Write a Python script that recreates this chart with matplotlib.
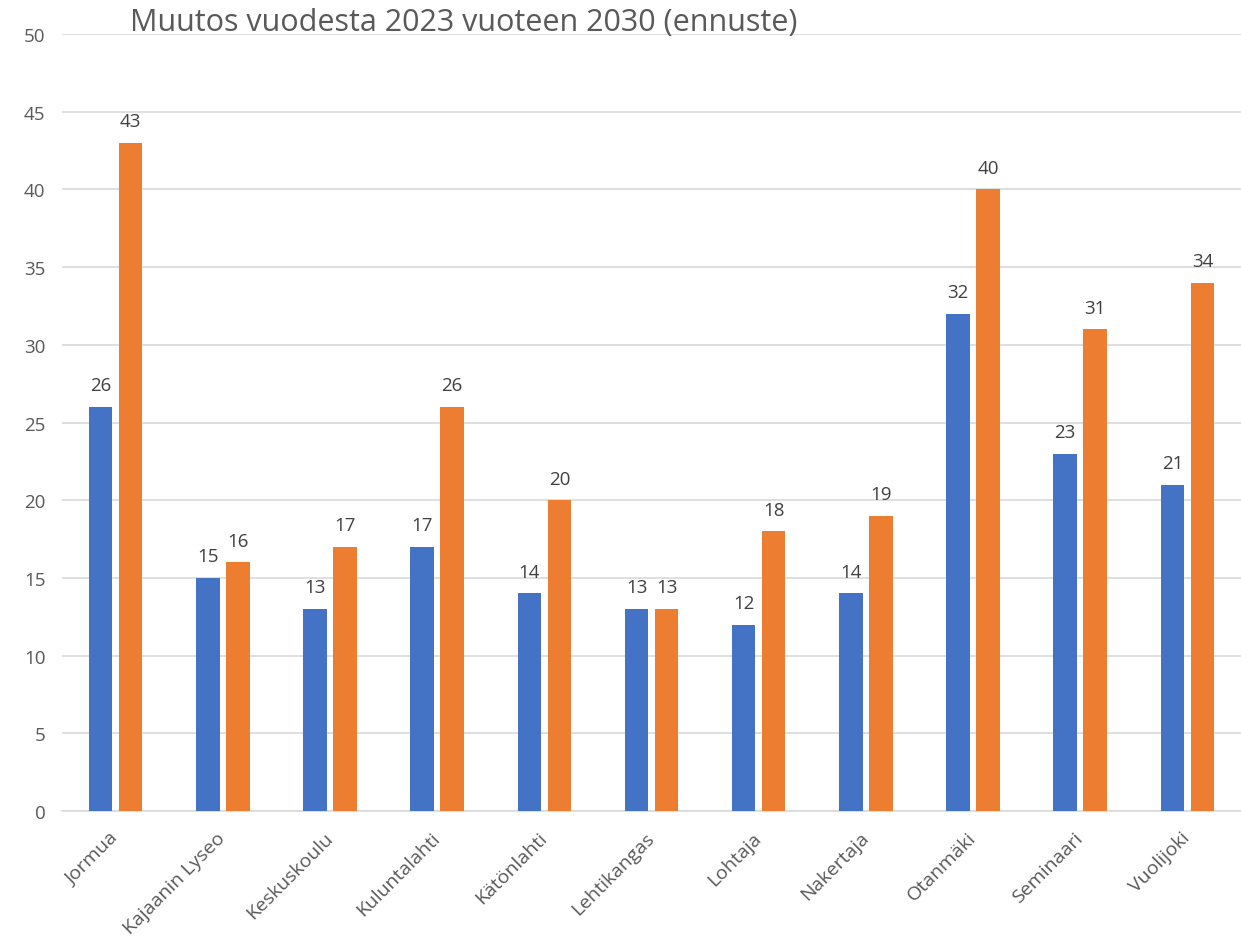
import matplotlib
matplotlib.use("Agg")
import matplotlib.pyplot as plt
import numpy as np

plt.rcParams['font.family'] = ['Open Sans', 'DejaVu Sans']

# Tiedot
koulut = ["Jormua", "Kajaanin Lyseo", "Keskuskoulu", "Kuluntalahti", "Kätönlahti",
          "Lehtikangas", "Lohtaja", "Nakertaja", "Otanmäki", "Seminaari", "Vuolijoki"]
v2023 = [26, 15, 13, 17, 14, 13, 12, 14, 32, 23, 21]
v2030 = [43, 16, 17, 26, 20, 13, 18, 19, 40, 31, 34]
yticks = [0, 5, 10, 15, 20, 25, 30, 35, 40, 45, 50]

sininen = "#4472C4"
oranssi = "#ED7D31"
harmaa = "#595959"

fig = plt.figure(figsize=(12.41, 9.37), dpi=100)
ax = fig.add_axes([0.05, 0.1334, 0.95, 0.8292])

x = np.arange(len(koulut))
w = 0.22
off = 0.14
b1 = ax.bar(x - off, v2023, w, color=sininen, zorder=3)
b2 = ax.bar(x + off, v2030, w, color=oranssi, zorder=3)

# Arvot palkkien päälle
for bars in (b1, b2):
    for r in bars:
        ax.annotate(str(int(r.get_height())), (r.get_x() + r.get_width() / 2, r.get_height()),
                    xytext=(0, 9), textcoords="offset points", ha="center", va="bottom",
                    fontsize=13.5, color="#404040")

ax.set_xlim(-0.5, len(koulut) - 0.5)
ax.set_ylim(0, 50)
ax.set_yticks(yticks)
ax.yaxis.grid(True, color="#D9D9D9", linewidth=1.2, zorder=0)
ax.set_axisbelow(True)
for s in ["top", "right", "left"]:
    ax.spines[s].set_visible(False)
ax.spines["bottom"].set_color("#D9D9D9")
ax.spines["bottom"].set_linewidth(1.2)
ax.tick_params(axis="both", length=0, labelcolor=harmaa)
ax.tick_params(axis="y", pad=12, labelsize=13.5)
ax.tick_params(axis="x", pad=17, labelsize=14)

ax.set_xticks(x)
ax.set_xticklabels(koulut, rotation=45, ha="right", va="center", rotation_mode="anchor")

fig.text(0.105, 0.967, "Muutos vuodesta 2023 vuoteen 2030 (ennuste)",
         fontsize=22, color=harmaa, ha="left", va="baseline")

fig.savefig("out.png", dpi=100)
